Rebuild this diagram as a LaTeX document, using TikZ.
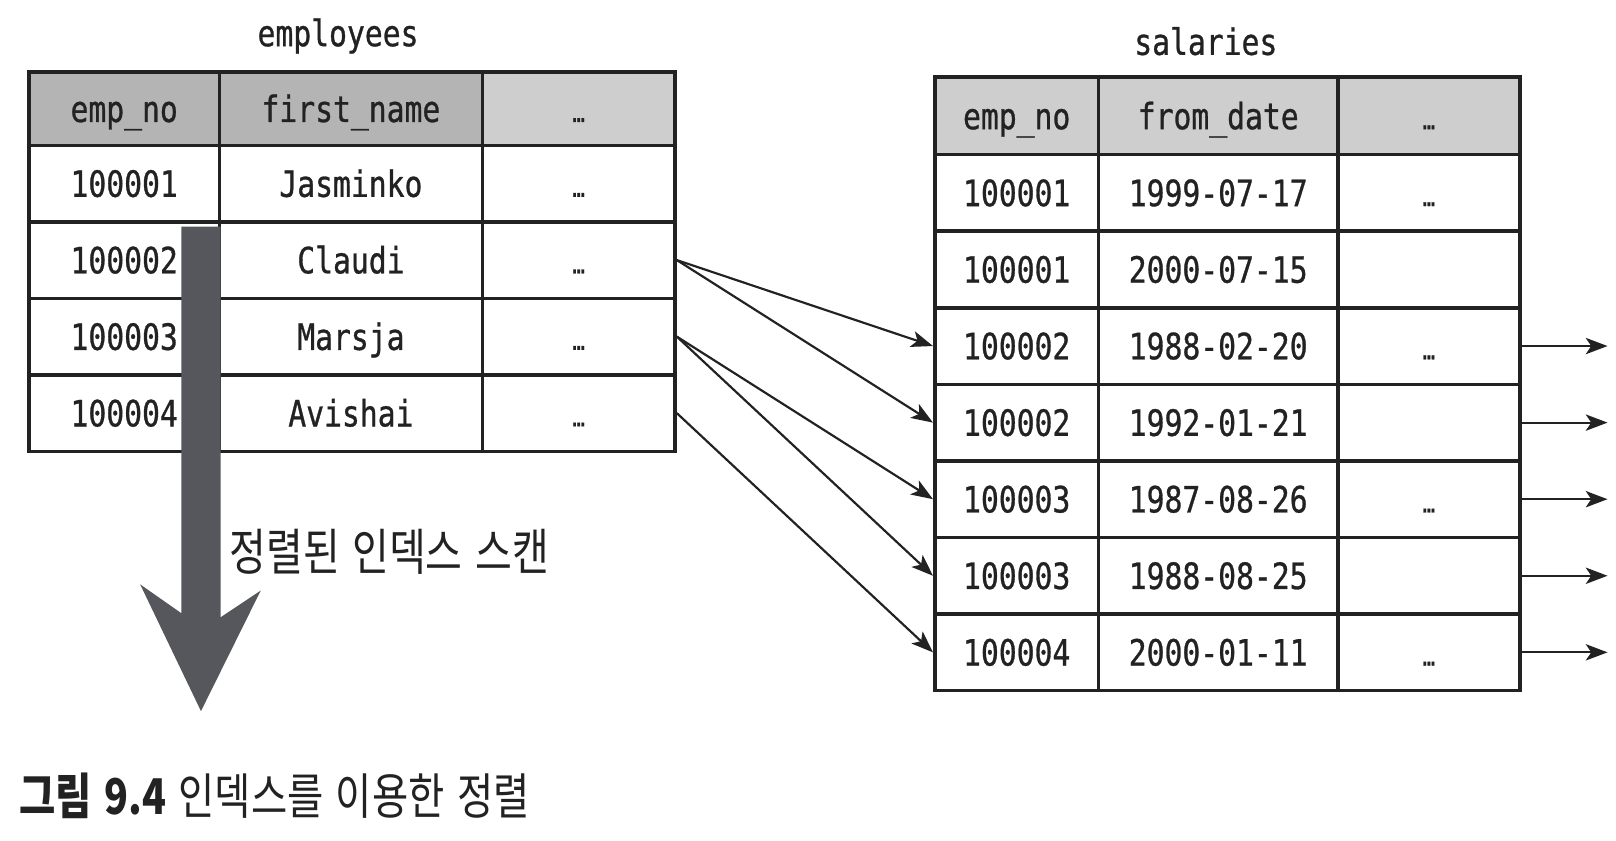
\documentclass[tikz,border=0pt]{standalone}
\usepackage{fontspec}
\setmonofont{DejaVu Sans Mono}[FakeStretch=0.82, FakeBold=0.8]
\newfontfamily\krfont{Noto Sans CJK KR}[FakeStretch=0.8, WordSpace=3]
\newfontfamily\capfont{Noto Sans CJK KR}[FakeStretch=0.8, WordSpace=1.4]
\usetikzlibrary{arrows.meta}
\definecolor{ink}{HTML}{222222}
\definecolor{head}{HTML}{B4B4B4}
\definecolor{headlight}{HTML}{CECECE}
\definecolor{scan}{HTML}{56575C}
\newcommand\more{{\scriptsize …}}

\begin{document}
\begin{tikzpicture}[
	mono/.style = {font = \ttfamily\fontsize{10}{12}\selectfont, text = ink},
	cell/.style = {mono, draw = ink, line width = 1pt, inner sep = 0pt, text height = 7.3pt, text depth = 0pt},
	tip/.style = {-{Stealth[length = 6pt, width = 4.5pt, inset = 1.5pt]}, line width = 0.6pt, draw = ink}]
	\useasboundingbox (0,0) rectangle (15.68,-8.16);
	\node [mono] (etitle) at (3.28,-0.35) {employees};
	\node [cell, fill = head, minimum width = 1.85cm, minimum height = 0.71cm] (e0-1) at (1.205,-1.055) {emp\_no};
	\node [cell, fill = head, minimum width = 2.55cm, minimum height = 0.71cm] (e0-2) at (3.405,-1.055) {first\_name};
	\node [cell, fill = headlight, minimum width = 1.87cm, minimum height = 0.71cm] (e0-3) at (5.615,-1.055) {\more};
	\foreach \r/\id/\name [evaluate = \r as \y using -1.41-0.7425*(\r-0.5)] in {1/100001/Jasminko, 2/100002/Claudi, 3/100003/Marsja, 4/100004/Avishai} {
		\node [cell, minimum width = 1.85cm, minimum height = 0.7425cm] (e\r-1) at (1.205,\y) {\id};
		\node [cell, minimum width = 2.55cm, minimum height = 0.7425cm] (e\r-2) at (3.405,\y) {\name};
		\node [cell, minimum width = 1.87cm, minimum height = 0.7425cm] (e\r-3) at (5.615,\y) {\more};
	}
	\node [mono] (stitle) at (11.70,-0.40) {salaries};
	\node [cell, fill = headlight, minimum width = 1.59cm, minimum height = 0.75cm] (s0-1) at (9.865,-1.125) {emp\_no};
	\node [cell, fill = headlight, minimum width = 2.32cm, minimum height = 0.75cm] (s0-2) at (11.82,-1.125) {from\_date};
	\node [cell, fill = headlight, minimum width = 1.77cm, minimum height = 0.75cm] (s0-3) at (13.865,-1.125) {\more};
	\foreach \r/\id/\day/\rest [evaluate = \r as \y using -1.50-0.743*(\r-0.5)] in {1/100001/1999-07-17/\more, 2/100001/2000-07-15/{}, 3/100002/1988-02-20/\more, 4/100002/1992-01-21/{}, 5/100003/1987-08-26/\more, 6/100003/1988-08-25/{}, 7/100004/2000-01-11/\more} {
		\node [cell, minimum width = 1.59cm, minimum height = 0.743cm] (s\r-1) at (9.865,\y) {\id};
		\node [cell, minimum width = 2.32cm, minimum height = 0.743cm] (s\r-2) at (11.82,\y) {\day};
		\node [cell, minimum width = 1.77cm, minimum height = 0.743cm] (s\r-3) at (13.865,\y) {\rest};
	}
	\foreach \a/\b in {2/3, 2/4, 3/5, 3/6, 4/7}
	\draw [tip] (e\a-3.east) -- (s\b-1.west);
	\foreach \r in {3,...,7} {
		\coordinate (out\r) at ([xshift = 0.83cm] s\r-3.east);
		\draw [tip] (s\r-3.east) -- (out\r);
	}
	\fill [scan] (1.76,-2.20) -- (1.76,-5.95) -- (1.36,-5.67) -- (1.95,-6.90) -- (2.53,-5.73) -- (2.14,-5.99) -- (2.14,-2.20) -- cycle;
	\node [font = \krfont\fontsize{13.8}{16}\selectfont, text = ink, anchor = west, inner sep = 0pt] (scanlabel) at (2.22,-5.35) {정렬된 인덱스 스캔};
	\node [font = \capfont\fontsize{13.6}{16}\selectfont, text = ink, anchor = west, inner sep = 0pt] (caption) at (0.18,-7.72) {\textbf{그림 9.4} 인덱스를 이용한 정렬};
\end{tikzpicture}
\end{document}
